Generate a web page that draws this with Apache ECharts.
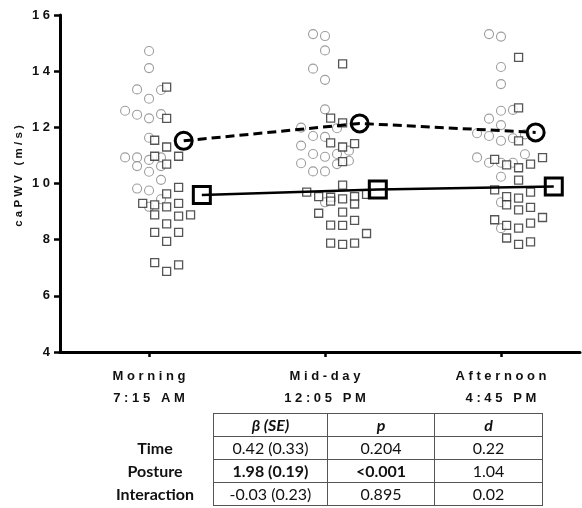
<!DOCTYPE html>
<html lang="en">
<head>
    <meta charset="UTF-8">
    <title>caPWV by time of day</title>
    <script type="text/javascript" src="https://cdn.jsdelivr.net/npm/echarts@6/dist/echarts.min.js"></script>
    <style type="text/css">
        html,
        body {
            padding: 0;
            margin: 0;
            background-color: #fff;
            width: 582px;
            height: 508px;
            overflow: hidden;
        }
        #chart {
            position: absolute;
            left: 0;
            top: 0;
            width: 582px;
            height: 508px;
        }
        #stats {
            position: absolute;
            left: 97px;
            top: 413px;
            border-collapse: collapse;
            font-family: Lato, "Noto Sans", sans-serif;
            font-size: 16px;
            color: #111;
        }
        #stats td {
            border: 1px solid #555;
            height: 22px;
            padding: 0;
            text-align: center;
            line-height: 22px;
        }
        #stats td.lab {
            border: none;
            width: 116px;
            font-weight: bold;
        }
        #stats td.c1 { width: 113px; }
        #stats td.c2 { width: 106px; }
        #stats td.c3 { width: 107px; }
        #stats tr.head td { font-weight: bold; font-style: italic; }
        #stats tr.head td.lab { border: none; }
        #stats .b { font-weight: bold; }
    </style>
</head>
<body>
<div id="chart"></div>
<table id="stats"></table>
<script type="text/javascript">
    // time points
    const categories = ['Morning', 'Mid-day', 'Afternoon'];
    const clockTimes = ['7:15 AM', '12:05 PM', '4:45 PM'];
    const yTicks = [4, 6, 8, 10, 12, 14, 16];
    const yTitle = 'caPWV (m/s)';

    // circles (grey) – individual values, and beeswarm slot
    const circleMorning = [14.72, 14.11, 13.35, 13.33, 13.02, 12.59, 12.45, 12.32, 12.47, 11.63, 10.93, 10.93, 10.84, 10.93, 10.62, 10.42, 10.62, 10.13, 9.82, 9.75, 9.44, 9.17];
    const circleMorningSlot = [0, 0, -1, 1, 0, -2, -1, 0, 1, 0, -2, -1, 0, 1, -1, 0, 1, 1, -1, 0, 1, 0];
    const circleMidday = [15.32, 15.25, 14.74, 14.09, 13.69, 12.64, 11.99, 11.97, 11.69, 11.66, 11.35, 11.17, 11.05, 11.05, 10.95, 10.81, 10.72, 10.69, 10.43, 10.43, 9.33];
    const circleMiddaySlot = [-1, 0, 0, -1, 0, 0, -2, 1, -1, 0, -2, 2, 1, -1, 0, 2, -2, 1, -1, 0, 0];
    const circleAfternoon = [15.32, 15.23, 14.15, 13.54, 12.59, 12.62, 12.31, 12.08, 11.79, 11.69, 11.52, 11.61, 11.75, 10.93, 10.74, 10.74, 10.74, 11.04, 10.24, 9.33, 8.41];
    const circleAfternoonSlot = [-1, 0, 0, 0, 0, 1, -1, 0, -2, -1, 0, 1, 2, -2, -1, 0, 1, 2, 0, 0, 0];

    // squares (black)
    const squareMorning = [13.43, 12.32, 11.54, 11.30, 10.97, 10.97, 10.69, 9.86, 9.63, 9.29, 9.24, 9.17, 9.29, 8.88, 8.84, 8.88, 8.56, 8.26, 8.26, 7.94, 7.18, 6.87, 7.10];
    const squareMorningSlot = [0, 0, -1, 0, -1, 1, 0, 1, 0, -2, -1, 0, 1, -1, 1, 2, 0, -1, 1, 0, -1, 0, 1];
    const squareMidday = [14.26, 12.33, 12.16, 11.45, 11.30, 11.42, 10.78, 9.94, 9.69, 9.53, 9.51, 9.37, 9.45, 9.53, 9.61, 9.27, 8.94, 8.98, 8.69, 8.52, 8.51, 8.22, 7.88, 7.83, 7.88];
    const squareMiddaySlot = [0, -1, 0, -1, 0, 1, 0, 0, -3, -2, -1, -1, 0, 1, 2, 1, -2, 0, 1, -1, 0, 2, -1, 0, 1];
    const squareAfternoon = [14.49, 12.69, 11.52, 10.86, 10.66, 10.56, 10.69, 10.92, 10.12, 9.77, 9.53, 9.48, 9.69, 9.24, 9.06, 9.15, 8.71, 8.51, 8.41, 8.59, 8.79, 8.06, 7.83, 7.92];
    const squareAfternoonSlot = [0, 0, 0, -2, -1, 0, 1, 2, 0, -2, -1, 0, 1, -1, 0, 1, -2, -1, 0, 1, 2, -1, 0, 1];

    // group means
    const circleMean = [11.52, 12.14, 11.82];
    const squareMean = [9.59, 9.79, 9.89];

    // model table
    const tableHeader = ['', 'β (SE)', 'p', 'd'];
    const tableRows = [
        ['Time', '0.42 (0.33)', '0.204', '0.22'],
        ['Posture', '1.98 (0.19)', '<0.001', '1.04'],
        ['Interaction', '-0.03 (0.23)', '0.895', '0.02']
    ];
    const boldCells = {'Posture': [1, 2]};

    const slotW = 0.068;
    const squareShift = 0.1;

    function swarm(groups, slots, shift) {
        const out = [];
        groups.forEach(function (vals, g) {
            vals.forEach(function (v, i) {
                out.push([g + shift + slots[g][i] * slotW, v]);
            });
        });
        return out;
    }

    function spaced(s) {
        return s.split('').join(' ');
    }

    const circles = swarm([circleMorning, circleMidday, circleAfternoon],
        [circleMorningSlot, circleMiddaySlot, circleAfternoonSlot], 0);
    const squares = swarm([squareMorning, squareMidday, squareAfternoon],
        [squareMorningSlot, squareMiddaySlot, squareAfternoonSlot], squareShift);

    const chart = echarts.init(document.getElementById('chart'), null, {renderer: 'canvas'});
    const font = '"Liberation Sans", Arial, sans-serif';

    chart.setOption({
        animation: false,
        grid: {left: 60, right: 2, top: 15, bottom: 156},
        graphic: [{
            type: 'text',
            x: 19,
            y: 176,
            rotation: Math.PI / 2,
            style: {
                text: spaced(yTitle),
                font: 'bold 11.5px "Liberation Sans", Arial, sans-serif',
                fill: '#111',
                align: 'center',
                verticalAlign: 'middle'
            }
        }],
        xAxis: {
            type: 'value',
            min: -0.506,
            max: 2.449,
            splitLine: {show: false},
            axisLine: {onZero: false, lineStyle: {color: '#000', width: 3}},
            axisTick: {customValues: [0, 1, 2], length: 5, lineStyle: {color: '#000', width: 2.5}},
            axisLabel: {
                customValues: [0, 1, 2],
                margin: 13,
                fontFamily: font,
                fontWeight: 'bold',
                fontSize: 13,
                lineHeight: 22,
                color: '#111',
                formatter: function (v) {
                    const i = Math.round(v);
                    return spaced(categories[i]) + '\n' + spaced(clockTimes[i]);
                }
            }
        },
        yAxis: {
            type: 'value',
            min: yTicks[0],
            max: yTicks[yTicks.length - 1],
            interval: 2,
            splitLine: {show: false},
            axisLine: {show: true, onZero: false, lineStyle: {color: '#000', width: 3}},
            axisTick: {show: true, length: 6, lineStyle: {color: '#000', width: 2.5}},
            axisLabel: {
                margin: 10,
                fontFamily: font,
                fontWeight: 'bold',
                fontSize: 13,
                color: '#111',
                formatter: function (v) { return spaced(String(v)); }
            }
        },
        series: [
            {
                type: 'scatter',
                data: circles,
                symbol: 'circle',
                symbolSize: 9,
                itemStyle: {color: '#fff', borderColor: '#858585', borderWidth: 1.1},
                z: 2
            },
            {
                type: 'scatter',
                data: squares,
                symbol: 'rect',
                symbolSize: 8,
                itemStyle: {color: '#fff', borderColor: '#2a2a2a', borderWidth: 1.3},
                z: 3
            },
            {
                type: 'line',
                data: circleMean.map(function (v, i) { return [i + 0.197, v]; }),
                symbol: 'circle',
                symbolSize: 17,
                lineStyle: {color: '#000', width: 3, type: [9, 5]},
                itemStyle: {color: 'rgba(255,255,255,0)', borderColor: '#000', borderWidth: 3},
                z: 5
            },
            {
                type: 'line',
                data: squareMean.map(function (v, i) { return [i + 0.3, v]; }),
                symbol: 'rect',
                symbolSize: 17,
                lineStyle: {color: '#000', width: 2.5},
                itemStyle: {color: 'rgba(255,255,255,0)', borderColor: '#000', borderWidth: 3},
                z: 5
            }
        ]
    });

    // table under the chart
    const table = document.getElementById('stats');
    const cls = ['lab', 'c1', 'c2', 'c3'];
    let html = '<tr class="head">' + tableHeader.map(function (h, i) {
        return '<td class="' + cls[i] + '">' + h + '</td>';
    }).join('') + '</tr>';
    tableRows.forEach(function (row) {
        const bold = boldCells[row[0]] || [];
        html += '<tr>' + row.map(function (c, i) {
            const b = bold.indexOf(i) !== -1 ? ' b' : '';
            return '<td class="' + cls[i] + b + '">' + c.replace('<', '&lt;') + '</td>';
        }).join('') + '</tr>';
    });
    table.innerHTML = html;
</script>
</body>
</html>
